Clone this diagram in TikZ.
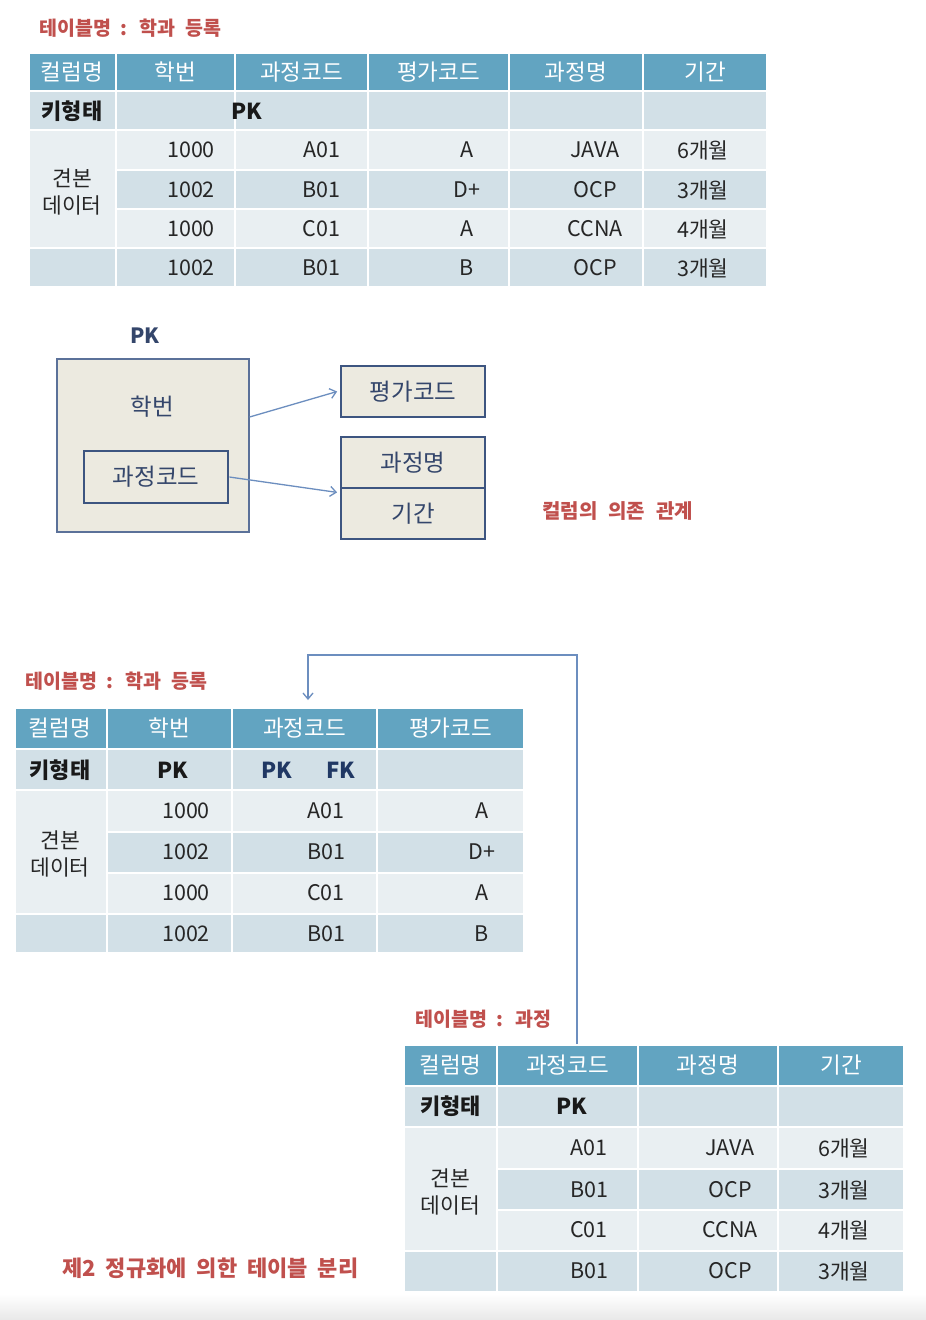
\documentclass[tikz,border=0pt]{standalone}
\usepackage{fontspec}
\setmainfont{Noto Sans CJK KR}
\usetikzlibrary{arrows.meta,calc}
\definecolor{hdr}{HTML}{62A4C1}
\definecolor{dk}{HTML}{D2E0E7}
\definecolor{lt}{HTML}{E9EFF2}
\definecolor{ttlred}{HTML}{C0504D}
\definecolor{pkblue}{HTML}{203864}
\definecolor{boxfill}{HTML}{ECEAE0}
\definecolor{boxline}{HTML}{3D5580}
\definecolor{thinline}{HTML}{5B7199}
\definecolor{arrc}{HTML}{6C8EBF}
\definecolor{dtxt}{HTML}{34466B}
\newcommand\cellbox[5]{\filldraw[fill=#5,draw=white,line width=2.5pt] (#1,#2) rectangle (#3,#4);}
\newcommand\widespace[1]{\spaceskip=#1\relax}
\tikzset{
  hd/.style={inner sep=0pt,text=white,font=\fontsize{22.5}{26}\selectfont},
  cellt/.style={inner sep=0pt,text=black!85,font=\fontsize{21.5}{25}\selectfont},
  keyt/.style={inner sep=0pt,text=black!90,font=\bfseries\fontsize{22}{26}\selectfont},
  bluek/.style={inner sep=0pt,text=pkblue,font=\bfseries\fontsize{22}{26}\selectfont},
  multit/.style={inner sep=0pt,text=black!85,align=center,font=\fontsize{21.5}{27}\selectfont},
  ttl/.style={inner sep=0pt,anchor=west,text=ttlred,font=\bfseries\fontsize{19.5}{23}\selectfont\widespace{10pt}},
  ttlmid/.style={ttl,font=\bfseries\fontsize{20}{24}\selectfont\widespace{11pt}},
  ttlbig/.style={ttl,font=\bfseries\fontsize{22}{26}\selectfont\widespace{10pt}},
  obox/.style={draw=thinline,line width=1.2pt,fill=boxfill,inner sep=0pt},
  ibox/.style={draw=boxline,line width=2.8pt,fill=boxfill,inner sep=0pt,text=dtxt,font=\fontsize{23.5}{27}\selectfont},
  dtext/.style={inner sep=0pt,text=dtxt,font=\fontsize{23.5}{27}\selectfont},
  arr/.style={draw=arrc,line width=1.3pt,-{Straight Barb[length=6pt,width=10pt,line width=1.3pt]}},
}
\begin{document}
\begin{tikzpicture}[x=1pt,y=-1pt]
\useasboundingbox (0,0) rectangle (926,1320);
\fill[white] (0,0) rectangle (926,1320);
\shade[top color=white,bottom color=black!9] (0,1294) rectangle (926,1320);

% ---------------- Table 1 ----------------
\node[ttl] (t1title) at (39,28) {테이블명 : 학과 등록};
\foreach \xa/\xb in {29/116,116/235,235/368,368/509,509/643,643/767}
  \cellbox{\xa}{53}{\xb}{91}{hdr};
\foreach \ya/\yb/\c in {91/130/dk,130/170/lt,170/209/dk,209/248/lt,248/287/dk}
  \foreach \xa/\xb in {116/235,235/368,368/509,509/643,643/767}
    \cellbox{\xa}{\ya}{\xb}{\yb}{\c};
\cellbox{29}{91}{116}{130}{dk}
\cellbox{29}{130}{116}{248}{lt}
\cellbox{29}{248}{116}{287}{dk}
\foreach \x/\t [count=\i] in {72/컬럼명,175.5/학번,301.5/과정코드,438.5/평가코드,576/과정명,705/기간}
  \node[hd] (t1h\i) at (\x,72) {\t};
\node[keyt] (t1k1) at (72,111) {키형태};
\node[keyt] (t1k2) at (247,111) {PK};
\node[multit] (t1s) at (72,191.5) {견본\\데이터};
\foreach \y/\a/\b/\c/\d/\e [count=\r] in {150/1000/A01/A/JAVA/6개월,190/1002/B01/D+/OCP/3개월,229/1000/C01/A/CCNA/4개월,268/1002/B01/B/OCP/3개월}{
  \node[cellt] (t1r\r a) at (191,\y) {\a};
  \node[cellt] (t1r\r b) at (321.5,\y) {\b};
  \node[cellt] (t1r\r c) at (467,\y) {\c};
  \node[cellt] (t1r\r d) at (595,\y) {\d};
  \node[cellt] (t1r\r e) at (703,\y) {\e};
}

% ---------------- Dependency diagram ----------------
\node[inner sep=0pt,text=dtxt,font=\bfseries\fontsize{21}{25}\selectfont] (pklbl) at (145,336) {PK};
\node[obox,minimum width=192pt,minimum height=173pt] (pkbox) at (153,445.5) {};
\node[dtext] (hakbeon) at (152,407) {학번};
\node[ibox,minimum width=144pt,minimum height=52pt] (kcode) at (156,477) {과정코드};
\node[ibox,minimum width=144pt,minimum height=51pt] (eval) at (413,391.5) {평가코드};
\node[ibox,minimum width=144pt,minimum height=51pt] (cname) at (413,462.5) {과정명};
\node[ibox,minimum width=144pt,minimum height=51pt] (cper) at (413,513.5) {기간};
\draw[arr] ([yshift=28.5pt]pkbox.east) -- ([xshift=-2.5pt]eval.west);
\draw[arr] (kcode.east) -- ([xshift=-2.5pt,yshift=-3pt]cname.south west);
\node[ttlmid] (deplbl) at (542,511) {컬럼의 의존 관계};

% ---------------- Table 2 ----------------
\node[ttl] (t2title) at (25,681) {테이블명 : 학과 등록};
\foreach \xa/\xb in {14.5/107,107/232,232/377,377/524}
  \cellbox{\xa}{708}{\xb}{749}{hdr};
\foreach \ya/\yb/\c in {749/790/dk,790/832/lt,832/873/dk,873/914/lt,914/953/dk}
  \foreach \xa/\xb in {107/232,232/377,377/524}
    \cellbox{\xa}{\ya}{\xb}{\yb}{\c};
\cellbox{14.5}{749}{107}{790}{dk}
\cellbox{14.5}{790}{107}{914}{lt}
\cellbox{14.5}{914}{107}{953}{dk}
\foreach \x/\t [count=\i] in {60/컬럼명,169.5/학번,304.5/과정코드,450.5/평가코드}
  \node[hd] (t2h\i) at (\x,728) {\t};
\node[keyt] (t2k1) at (60,770) {키형태};
\node[keyt] (t2k2) at (173,770) {PK};
\node[bluek] (t2k3) at (276.5,770) {PK};
\node[bluek] (t2k4) at (341,770) {FK};
\node[multit] (t2s) at (60,854) {견본\\데이터};
\foreach \y/\a/\b/\c [count=\r] in {811/1000/A01/A,852/1002/B01/D+,893/1000/C01/A,934/1002/B01/B}{
  \node[cellt] (t2r\r a) at (186,\y) {\a};
  \node[cellt] (t2r\r b) at (326,\y) {\b};
  \node[cellt] (t2r\r c) at (482,\y) {\c};
}

% ---------------- Table 3 ----------------
\node[ttl] (t3title) at (415,1019) {테이블명 : 과정};
\foreach \xa/\xb in {404/497,497/638,638/778,778/904}
  \cellbox{\xa}{1045}{\xb}{1086}{hdr};
\foreach \ya/\yb/\c in {1086/1127/dk,1127/1169/lt,1169/1210/dk,1210/1251/lt,1251/1292/dk}
  \foreach \xa/\xb in {497/638,638/778,778/904}
    \cellbox{\xa}{\ya}{\xb}{\yb}{\c};
\cellbox{404}{1086}{497}{1127}{dk}
\cellbox{404}{1127}{497}{1251}{lt}
\cellbox{404}{1251}{497}{1292}{dk}
\foreach \x/\t [count=\i] in {450.5/컬럼명,567.5/과정코드,708/과정명,841/기간}
  \node[hd] (t3h\i) at (\x,1065) {\t};
\node[keyt] (t3k1) at (450.5,1106) {키형태};
\node[keyt] (t3k2) at (572,1106) {PK};
\node[multit] (t3s) at (450.5,1192) {견본\\데이터};
\foreach \y/\a/\b/\c [count=\r] in {1148/A01/JAVA/6개월,1190/B01/OCP/3개월,1230/C01/CCNA/4개월,1271/B01/OCP/3개월}{
  \node[cellt] (t3r\r a) at (589,\y) {\a};
  \node[cellt] (t3r\r b) at (730,\y) {\b};
  \node[cellt] (t3r\r c) at (844,\y) {\c};
}

% ---------------- connector between tables ----------------
\coordinate (cfrom) at (577,1044);
\coordinate (cbend) at (308,655);
\coordinate (cto) at (308,700);
\draw[arr] (cfrom) |- (cbend) -- (cto);

\node[ttlbig] (sumlbl) at (62,1268) {제2 정규화에 의한 테이블 분리};
\end{tikzpicture}
\end{document}
